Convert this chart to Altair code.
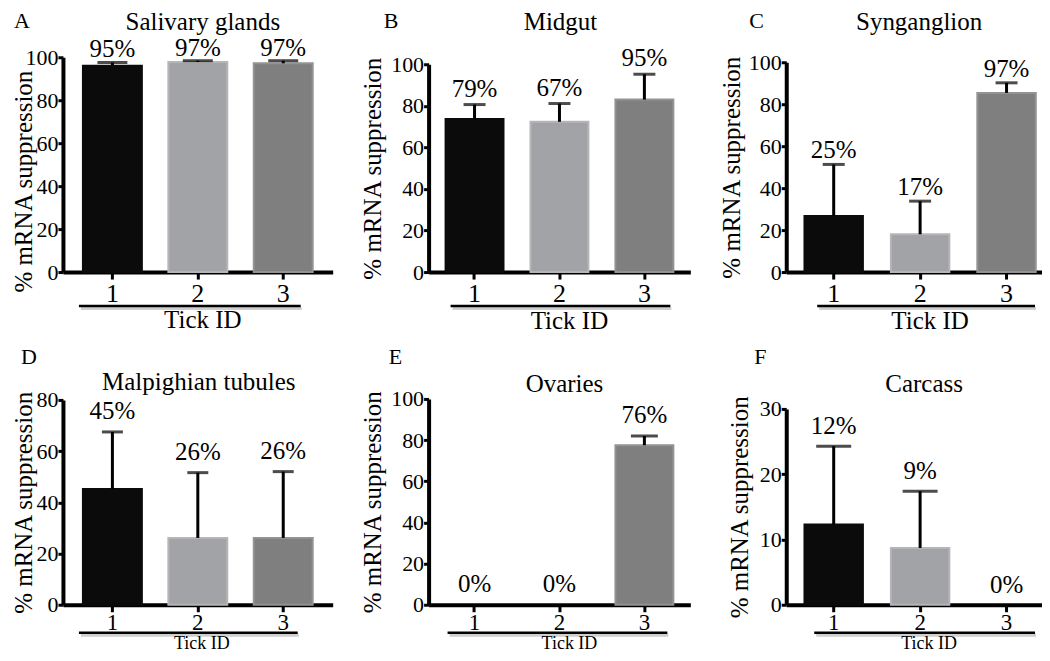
import altair as alt
import pandas as pd

FONT = "Liberation Serif"

# ---------------- data ----------------
ticks = ["1", "2", "3"]
letters = ["A", "B", "C", "D", "E", "F"]
titles = ["Salivary glands", "Midgut", "Synganglion",
          "Malpighian tubules", "Ovaries", "Carcass"]

mean_A = [96.0, 97.8, 97.2]
upper_A = [97.6, 98.4, 98.4]
label_A = ["95%", "97%", "97%"]

mean_B = [73.6, 72.3, 83.0]
upper_B = [80.6, 81.1, 95.2]
label_B = ["79%", "67%", "95%"]

mean_C = [26.7, 18.0, 85.4]
upper_C = [51.3, 33.8, 90.2]
label_C = ["25%", "17%", "97%"]

mean_D = [45.2, 26.1, 26.1]
upper_D = [67.5, 51.6, 52.0]
label_D = ["45%", "26%", "26%"]

mean_E = [0.0, 0.0, 77.5]
upper_E = [0.0, 0.0, 82.0]
label_E = ["0%", "0%", "76%"]

mean_F = [12.3, 8.7, 0.0]
upper_F = [24.3, 17.4, 0.0]
label_F = ["12%", "9%", "0%"]

y_max = [100, 100, 100, 80, 100, 30]
y_ticks = [[0, 20, 40, 60, 80, 100]] * 3 + [[0, 20, 40, 60, 80],
                                           [0, 20, 40, 60, 80, 100],
                                           [0, 10, 20, 30]]

means = [mean_A, mean_B, mean_C, mean_D, mean_E, mean_F]
uppers = [upper_A, upper_B, upper_C, upper_D, upper_E, upper_F]
labels = [label_A, label_B, label_C, label_D, label_E, label_F]

# ---------------- styling / layout ----------------
fills = ["#0b0b0b", "#a2a3a6", "#7f7f7f"]
strokes = ["#0b0b0b", "#b6b6b8", "#939393"]

col_w = [270, 262, 268]
row_h = [215, 206]
x_pad = [  # paddingInner, paddingOuter
    (0.31, 0.234),
    (0.318, 0.200),
    (0.324, 0.211),
]
x_label_size = [26, 23]
y_top = [0, 7, 5, 1, 0, 10]
title_x = [-26, -43, -42, -26, -43, -34]
title_y = [124, None, None, None, None, None]
cap_size = [30, 22, 22, 21, 27, 35]
label_dy = [-5, -8, -6, -13, -13, -12]
letter_pos = [(-49, -29), (-45, -29), (-37, -29), (-42, -35), (-40, -35), (-32, -35)]
title_pos = [(140, -27), (132, -27), (133, -27), (136, -9), (136, -7), (138, -7)]
tickid_pos = [(140, 56), (141, 57), (144, 57), (139, 44.4), (141, 44.4), (143, 44.4)]
tickid_size = [25, 25, 25, 18, 18, 18]
uline_pos = [(16, 238, 34), (22, 242, 34), (31, 249, 34),
             (16, 235, 28), (19, 239, 28), (28, 249, 28)]


def panel(i):
    col, row = i % 3, i // 3
    W, H = col_w[col], row_h[row]
    df = pd.DataFrame({"Tick": ticks, "mean": means[i],
                       "upper": uppers[i], "label": labels[i]})
    pi, po = x_pad[col]
    xs = alt.Scale(domain=ticks, paddingInner=pi, paddingOuter=po)
    ys = alt.Scale(domain=[0, y_max[i]], range=[H, y_top[i]], nice=False, zero=True)
    x_axis = alt.Axis(title=None, labelAngle=0, tickSize=7,
                      labelPadding=1 if row == 0 else 0,
                      labelFontSize=x_label_size[row], labelFont=FONT,
                      domainWidth=4, tickWidth=3)
    yargs = dict(values=y_ticks[i], title="%  mRNA suppression",
                 titleX=title_x[i], tickSize=5, labelPadding=0,
                 labelFontSize=22, labelFont=FONT, titleFont=FONT,
                 titleFontSize=25, titleFontWeight="normal", domainWidth=4,
                 tickWidth=3, grid=False)
    if title_y[i] is not None:
        yargs["titleY"] = title_y[i]
    y_axis = alt.Axis(**yargs)
    X = alt.X("Tick:N", scale=xs, axis=x_axis)
    base = alt.Chart(df)

    bars = base.transform_filter("datum.mean > 0").mark_bar(strokeWidth=2).encode(
        x=X,
        y=alt.Y("mean:Q", scale=ys, axis=y_axis),
        color=alt.Color("Tick:N", scale=alt.Scale(domain=ticks, range=fills), legend=None),
        stroke=alt.Stroke("Tick:N", scale=alt.Scale(domain=ticks, range=strokes), legend=None),
    )
    err = base.transform_filter("datum.upper > datum.mean").mark_rule(
        strokeWidth=3, color="black").encode(
        x=X,
        y=alt.Y("mean:Q", scale=ys, axis=y_axis),
        y2="upper:Q",
    )
    cap = base.transform_filter("datum.upper > datum.mean").mark_tick(
        thickness=3, size=cap_size[i], color="black").encode(
        x=X,
        y=alt.Y("upper:Q", scale=ys, axis=y_axis),
    )
    txt = base.mark_text(dy=label_dy[i], fontSize=25, font=FONT, color="black",
                         baseline="alphabetic").encode(
        x=X,
        y=alt.Y("upper:Q", scale=ys, axis=y_axis),
        text="label:N",
    )

    one = pd.DataFrame({"letter": [letters[i]], "title": [titles[i]], "xt": ["Tick ID"]})
    deco = alt.Chart(one)
    lx, ly = letter_pos[i]
    letter = deco.mark_text(fontSize=22, font=FONT, color="black", align="left",
                            baseline="alphabetic").encode(
        x=alt.value(lx), y=alt.value(ly), text="letter:N")
    tx, ty = title_pos[i]
    ttl = deco.mark_text(fontSize=25, font=FONT, color="black", align="center",
                         baseline="alphabetic").encode(
        x=alt.value(tx), y=alt.value(ty), text="title:N")
    kx, ky = tickid_pos[i]
    tid = deco.mark_text(fontSize=tickid_size[i], font=FONT, color="black", align="center",
                         baseline="alphabetic").encode(
        x=alt.value(kx), y=alt.value(H + ky), text="xt:N")
    u0, u1, uy = uline_pos[i]
    shadow = deco.mark_rule(strokeWidth=3, color="#cfcfcf").encode(
        x=alt.value(u0 + 2), x2=alt.value(u1 + 1), y=alt.value(H + uy + 2.5))
    uline = deco.mark_rule(strokeWidth=2.5, color="black").encode(
        x=alt.value(u0), x2=alt.value(u1), y=alt.value(H + uy))

    return alt.layer(bars, err, cap, txt, letter, ttl, shadow, uline, tid).properties(
        width=W, height=H)


chart = alt.concat(
    *[panel(i) for i in range(6)],
    columns=3,
    spacing=alt.RowColnumber(row=127, column=96),
    bounds="flush",
    align="each",
).properties(
    padding={"left": 3, "top": 2, "right": -12, "bottom": 0}
).configure_view(stroke=None).configure_axis(
    labelFont=FONT, titleFont=FONT, labelColor="black", titleColor="black",
    domainColor="black", tickColor="black", titleFontWeight="normal",
).configure_text(font=FONT)

chart.save("out.html", embed_options={"renderer": "svg", "actions": False})
